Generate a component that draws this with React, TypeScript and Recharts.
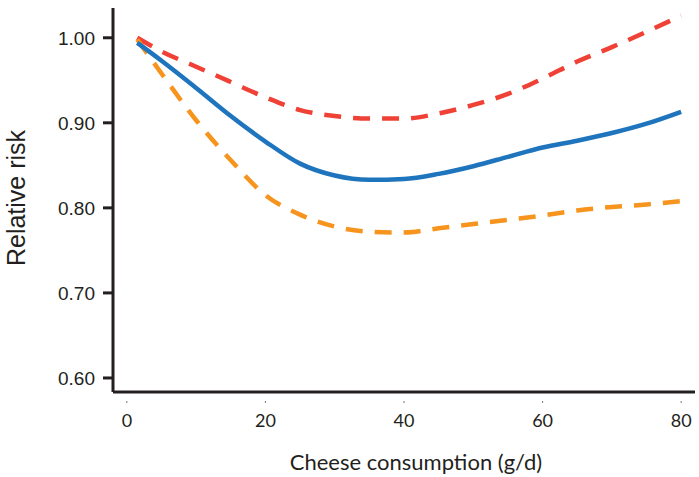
import React from 'react';
import { LineChart, Line, XAxis, YAxis, Label } from 'recharts';

// cheese intake (g/d) where the curves were read
const intake = [1.5, 5, 10, 15, 20, 25, 30, 35, 40, 45, 50, 55, 60, 65, 70, 75, 80];

// relative risk estimate and its 95% CI bounds
const rrEstimate = [0.994, 0.973, 0.941, 0.908, 0.878, 0.852, 0.838, 0.833, 0.834, 0.840, 0.849, 0.860, 0.871, 0.879, 0.888, 0.899, 0.913];
const rrUpper = [1.0, 0.984, 0.966, 0.948, 0.93, 0.915, 0.908, 0.905, 0.905, 0.911, 0.921, 0.934, 0.952, 0.972, 0.989, 1.007, 1.026];
const rrLower = [0.998, 0.958, 0.903, 0.856, 0.815, 0.792, 0.778, 0.772, 0.771, 0.776, 0.781, 0.786, 0.791, 0.797, 0.801, 0.804, 0.808];

const xTicks = [0, 20, 40, 60, 80];
const yTicks = [0.6, 0.7, 0.8, 0.9, 1.0];

const data = intake.map((x, i) => ({
  x,
  rr: rrEstimate[i],
  upper: rrUpper[i],
  lower: rrLower[i],
}));

const AXIS = '#231f20';

// x ticks in the original are tiny marks detached from the axis, label below
function XTick(props: any) {
  const { x, y, payload } = props;
  return (
    <g>
      <line x1={x} x2={x} y1={y - 1} y2={y + 1} stroke="#777" strokeWidth={1} />
      <text
        x={x}
        y={y + 18}
        textAnchor="middle"
        dominantBaseline="central"
        fontFamily="Lato"
        fontSize={18}
        fill={AXIS}
      >
        {payload.value}
      </text>
    </g>
  );
}

export default function App() {
  return (
    <div style={{ position: 'absolute', left: 0, top: 0, background: '#fff' }}>
      <LineChart width={699} height={477} data={data} margin={{ top: 8, right: 4, bottom: 0, left: 0 }}>
        <XAxis
          dataKey="x"
          type="number"
          height={85}
          domain={[-2, 82]}
          ticks={xTicks}
          allowDataOverflow
          axisLine={{ stroke: AXIS, strokeWidth: 3 }}
          tickLine={false}
          tick={<XTick />}
          tickMargin={0}
          tickSize={10}
        >
          <Label
            value="Cheese consumption (g/d)"
            position="insideBottom"
            offset={7}
            dx={12}
            style={{ fontFamily: 'Lato', fontSize: 22, fill: AXIS }}
          />
        </XAxis>
        <YAxis
          type="number"
          width={113}
          domain={[0.5835, 1.035]}
          ticks={yTicks}
          allowDataOverflow
          axisLine={{ stroke: AXIS, strokeWidth: 3 }}
          tickLine={{ stroke: AXIS, strokeWidth: 3 }}
          tickSize={10}
          tickMargin={8}
          tickFormatter={(v: number) => v.toFixed(2)}
          tick={{ fontFamily: 'Liberation Sans', fontSize: 19, fill: AXIS }}
        >
          <Label
            value="Relative risk"
            angle={-90}
            position="insideLeft"
            offset={16}
            dy={-2}
            style={{ textAnchor: 'middle', fontFamily: 'Liberation Sans', fontSize: 25, fill: AXIS }}
          />
        </YAxis>
        <Line
          type="monotone"
          dataKey="upper"
          stroke="#ef4136"
          strokeWidth={4.5}
          strokeDasharray="17 12"
          dot={false}
          isAnimationActive={false}
        />
        <Line
          type="monotone"
          dataKey="lower"
          stroke="#f7941d"
          strokeWidth={4.5}
          strokeDasharray="17 12"
          dot={false}
          isAnimationActive={false}
        />
        <Line
          type="monotone"
          dataKey="rr"
          stroke="#1f75bd"
          strokeWidth={4.5}
          dot={false}
          isAnimationActive={false}
        />
      </LineChart>
    </div>
  );
}
